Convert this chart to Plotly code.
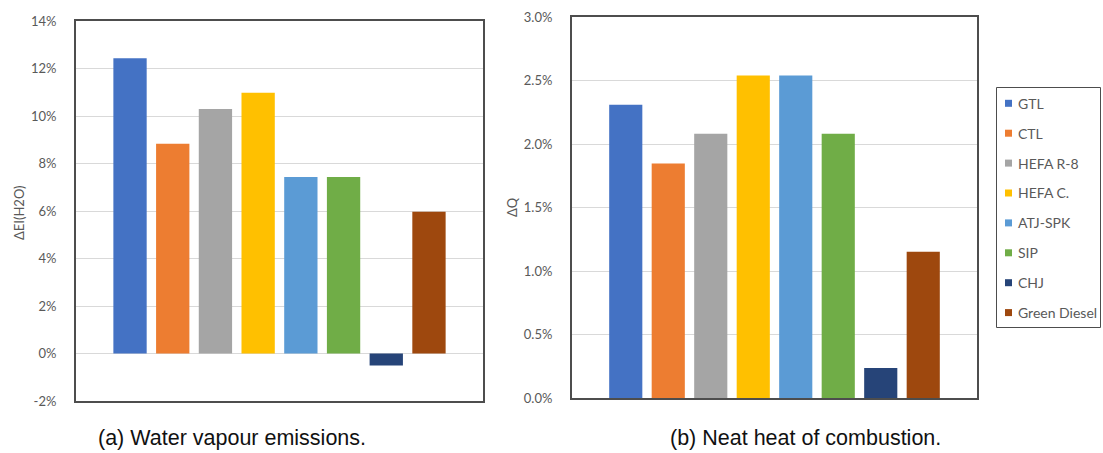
import plotly.graph_objects as go

# Fuel categories and their colours
fuels = ["GTL", "CTL", "HEFA R-8", "HEFA C.", "ATJ-SPK", "SIP", "CHJ", "Green Diesel"]
colors = ["#4472C4", "#ED7D31", "#A5A5A5", "#FFC000", "#5B9BD5", "#70AD47", "#264478", "#9E480E"]

# Change in water vapour emission index (fraction)
delta_ei_h2o = [0.1243, 0.0883, 0.1029, 0.1098, 0.0743, 0.0743, -0.0050, 0.0597]
# Change in net heat of combustion (fraction)
delta_q = [0.0231, 0.01847, 0.0208, 0.0254, 0.0254, 0.0208, 0.00236, 0.01152]

left_ticks = [-0.02, 0.0, 0.02, 0.04, 0.06, 0.08, 0.10, 0.12, 0.14]
left_labels = [f"{v * 100:.0f}%" for v in left_ticks]
right_ticks = [0.0, 0.005, 0.010, 0.015, 0.020, 0.025, 0.030]
right_labels = [f"{v * 100:.1f}%" for v in right_ticks]

W, H = 1103, 453
FONT = "Lato"
GREY = "#595959"


def px_x(p):
    return p / W


def px_y(p):
    return 1 - p / H


fig = go.Figure()

positions = list(range(len(fuels)))
for i, name in enumerate(fuels):
    fig.add_trace(go.Bar(x=[positions[i]], y=[delta_ei_h2o[i]], name=name,
                         marker=dict(color=colors[i], line=dict(width=0)),
                         width=0.78, showlegend=False, xaxis="x", yaxis="y"))
    fig.add_trace(go.Bar(x=[positions[i]], y=[delta_q[i]], name=name,
                         marker=dict(color=colors[i], line=dict(width=0)),
                         width=0.78, showlegend=False, xaxis="x2", yaxis="y2"))

axis_common = dict(showline=True, mirror=True, linecolor="#4d4d4d", linewidth=2,
                   ticks="", automargin=False,
                   tickfont=dict(family=FONT, size=13, color=GREY))

xr = [-1.265, len(fuels) - 1 + 1.265]
fig.update_layout(
    width=W, height=H,
    margin=dict(l=0, r=0, t=0, b=0, autoexpand=False),
    paper_bgcolor="white", plot_bgcolor="white",
    barmode="overlay",
    xaxis=dict(domain=[px_x(76), px_x(483)], range=xr, showticklabels=False,
               showgrid=False, zeroline=False, **axis_common),
    yaxis=dict(domain=[px_y(401), px_y(21)], range=[-0.02, 0.14], tickmode="array",
               tickvals=left_ticks, ticktext=left_labels,
               showgrid=True, gridcolor="#d9d9d9", gridwidth=1,
               zeroline=False, ticklabelstandoff=15, **axis_common),
    xaxis2=dict(domain=[px_x(572), px_x(977)], range=xr, showticklabels=False,
                showgrid=False, zeroline=False, anchor="y2", **axis_common),
    yaxis2=dict(domain=[px_y(398), px_y(17)], range=[0, 0.03], tickmode="array",
                tickvals=right_ticks, ticktext=right_labels,
                showgrid=True, gridcolor="#d9d9d9", gridwidth=1,
                zeroline=False, anchor="x2", ticklabelstandoff=15, **axis_common),
)

annotations = [
    dict(text="ΔEI(H2O)", x=px_x(19), y=px_y(213), textangle=-90,
         font=dict(family=FONT, size=13, color=GREY)),
    dict(text="ΔQ", x=px_x(512), y=px_y(207), textangle=-90,
         font=dict(family=FONT, size=13, color=GREY)),
    dict(text="(a) Water vapour emissions.", x=px_x(232), y=px_y(438),
         font=dict(family="Liberation Sans", size=21.5, color="#111111")),
    dict(text="(b) Neat heat of combustion.", x=px_x(805), y=px_y(438),
         font=dict(family="Liberation Sans", size=21.5, color="#111111")),
]
for a in annotations:
    a.update(xref="paper", yref="paper", showarrow=False, xanchor="center", yanchor="middle")

# Legend box with colour swatches
shapes = [dict(type="rect", xref="paper", yref="paper",
               x0=px_x(996.5), x1=px_x(1100.5), y0=px_y(327.5), y1=px_y(87.5),
               line=dict(color="#4d4d4d", width=1), fillcolor="white")]
for i, name in enumerate(fuels):
    cy = 103.3 + 29.9 * i
    shapes.append(dict(type="rect", xref="paper", yref="paper",
                       x0=px_x(1005), x1=px_x(1012), y0=px_y(cy + 3.5), y1=px_y(cy - 3.5),
                       line=dict(width=0), fillcolor=colors[i]))
    annotations.append(dict(text=name, x=px_x(1016), y=px_y(cy), xref="paper", yref="paper",
                            showarrow=False, xanchor="left", yanchor="middle",
                            font=dict(family=FONT, size=14, color=GREY)))

fig.update_layout(annotations=annotations, shapes=shapes)

fig.write_html("out.html")
